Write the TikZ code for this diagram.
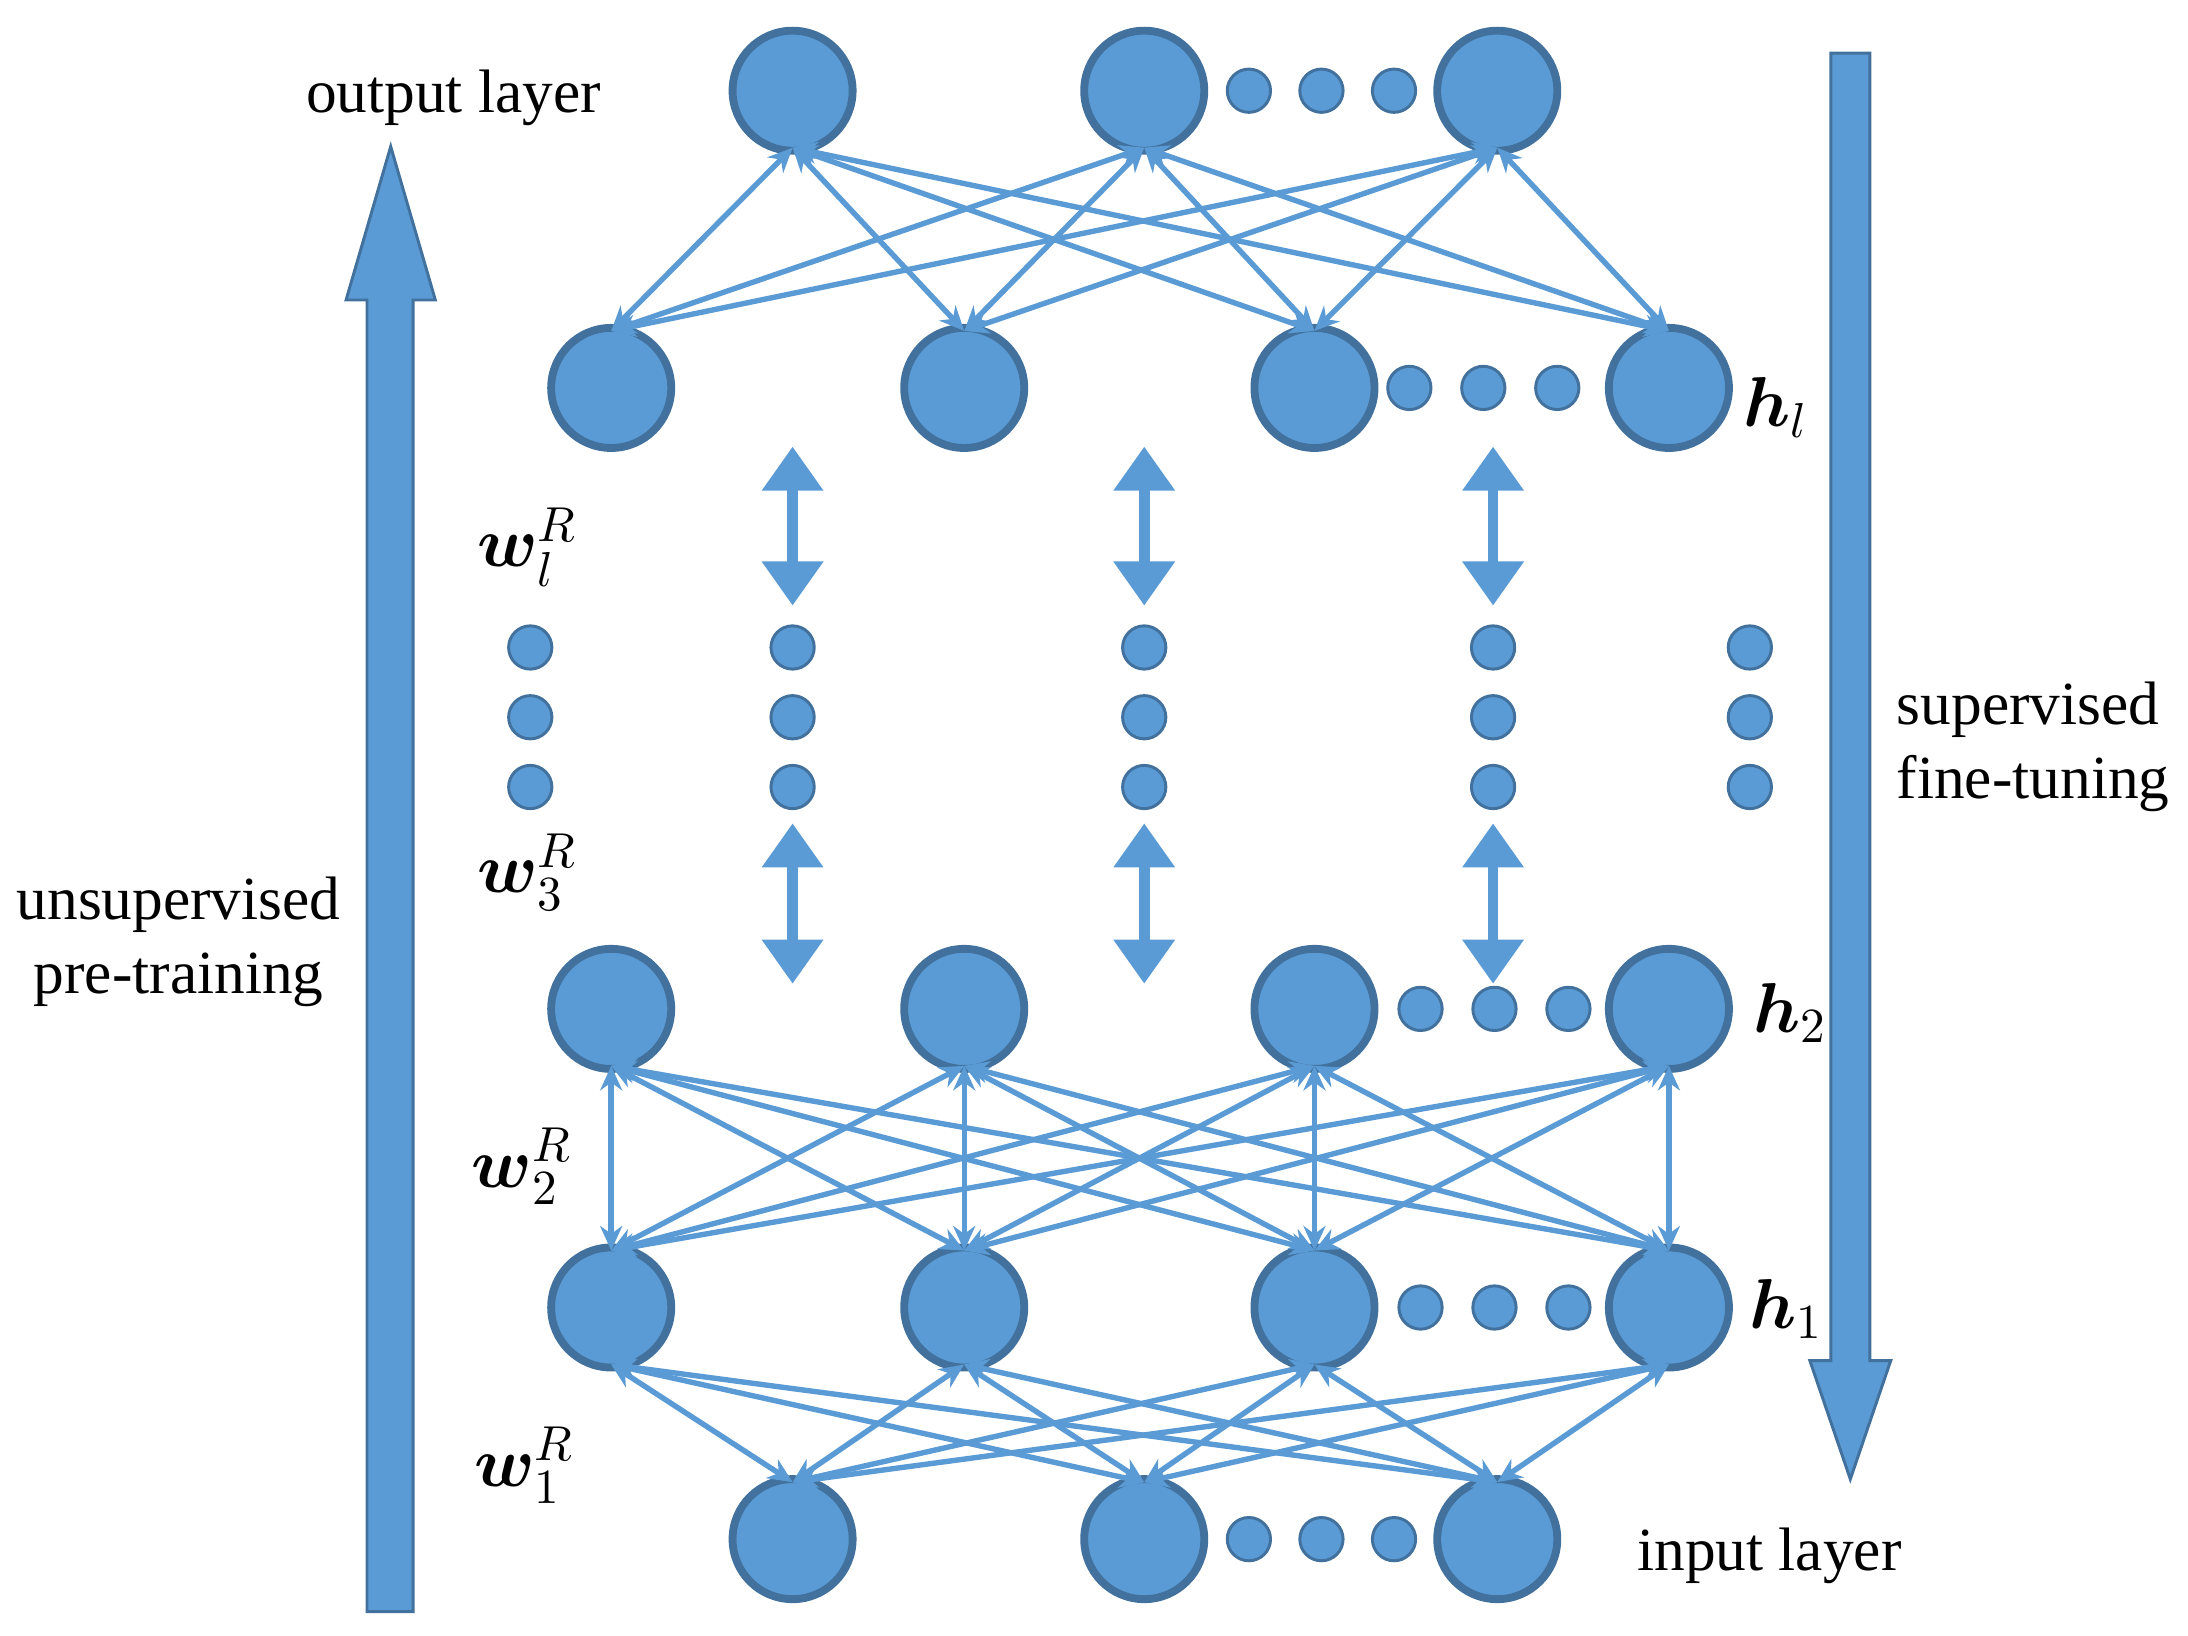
\documentclass[tikz,border=0pt]{standalone}
\usepackage{amsmath}
\usepackage{fontspec}
\setmainfont{Liberation Serif}
\usetikzlibrary{arrows.meta}
\definecolor{nfill}{HTML}{5B9BD5}
\definecolor{nline}{HTML}{41719C}
\begin{document}
\begin{tikzpicture}[x=0.01cm,y=-0.01cm,
 big/.style={circle,fill=nfill,draw=nline,line width=1.6pt,minimum size=0.86cm,inner sep=0},
 dot/.style={circle,fill=nfill,draw=nline,line width=0.6pt,minimum size=0.31cm,inner sep=0},
 edge/.style={nfill,line width=1.1pt,{Stealth[length=5pt,width=4.5pt]}-{Stealth[length=5pt,width=4.5pt]}},
 varrow/.style={nfill,line width=2.2pt,{Triangle[length=9pt,width=12pt]}-{Triangle[length=9pt,width=12pt]}},
 lab/.style={font=\fontsize{12.5}{15}\selectfont},
 mlab/.style={font=\fontsize{14}{16}\selectfont}]
\useasboundingbox (0,0) rectangle (1568,1172);
% nodes
\foreach \n/\x in {1/568,2/820,3/1073}{\node[big] (o\n) at (\x,65) {}; \node[big] (i\n) at (\x,1103) {};}
\foreach \n/\x in {1/438,2/691,3/942,4/1196}{\node[big] (l\n) at (\x,278) {}; \node[big] (b\n) at (\x,723) {}; \node[big] (a\n) at (\x,937) {};}
\foreach \n/\x in {1/895,2/947,3/999}{\node[dot] (od\n) at (\x,65) {}; \node[dot] (id\n) at (\x,1103) {};}
\foreach \n/\x in {1/1010,2/1063,3/1116}{\node[dot] (ld\n) at (\x,278) {};}
\foreach \n/\x in {1/1018,2/1071,3/1124}{\node[dot] (bd\n) at (\x,723) {}; \node[dot] (ad\n) at (\x,937) {};}
\foreach \c/\x in {1/380,2/568,3/820,4/1070,5/1254}{\foreach \r/\y in {1/464,2/514,3/564}{\node[dot] (m\c\r) at (\x,\y) {};}}
% edges
\foreach \i in {1,2,3}{\foreach \j in {1,2,3,4}{\draw[edge] ([yshift=0.05cm]o\i.south) -- ([yshift=-0.05cm]l\j.north); \draw[edge] ([yshift=-0.05cm]i\i.north) -- ([yshift=0.05cm]a\j.south);}}
\foreach \i in {1,2,3,4}{\foreach \j in {1,2,3,4}{\draw[edge] ([yshift=0.05cm]b\i.south) -- ([yshift=-0.05cm]a\j.north);}}
% vertical double arrows
\foreach \c/\x in {1/568,2/820,3/1070}{
 \coordinate (ut\c) at (\x,320); \coordinate (ub\c) at (\x,434);
 \coordinate (dt\c) at (\x,590); \coordinate (db\c) at (\x,705);
 \draw[varrow] (ut\c) -- (ub\c); \draw[varrow] (dt\c) -- (db\c);}
% big arrows
\draw[fill=nfill,draw=nline,line width=0.6pt] (263,1155) -- (263,215) -- (248,215) -- (280,105) -- (312,215) -- (296,215) -- (296,1155) -- cycle;
\draw[fill=nfill,draw=nline,line width=0.6pt] (1312,38) -- (1312,975) -- (1297,975) -- (1326,1060) -- (1355,975) -- (1340,975) -- (1340,38) -- cycle;
% labels
\node[lab] (tout) at (325,70) {output layer};
\node[lab] (tin) at (1268,1115) {input layer};
\node[lab,align=center] (tun) at (128,675) {unsupervised\\pre-training};
\node[lab,align=left] (tsu) at (1457,535) {supervised\\fine-tuning};
\node[mlab] (wl) at (378,392) {$\boldsymbol{w}_l^R$};
\node[mlab] (w3) at (378,625) {$\boldsymbol{w}_3^R$};
\node[mlab] (w2) at (374,836) {$\boldsymbol{w}_2^R$};
\node[mlab] (w1) at (376,1050) {$\boldsymbol{w}_1^R$};
\node[mlab] (hl) at (1273,292) {$\boldsymbol{h}_l$};
\node[mlab] (h2) at (1283,726) {$\boldsymbol{h}_2$};
\node[mlab] (h1) at (1280,938) {$\boldsymbol{h}_1$};
\end{tikzpicture}
\end{document}
